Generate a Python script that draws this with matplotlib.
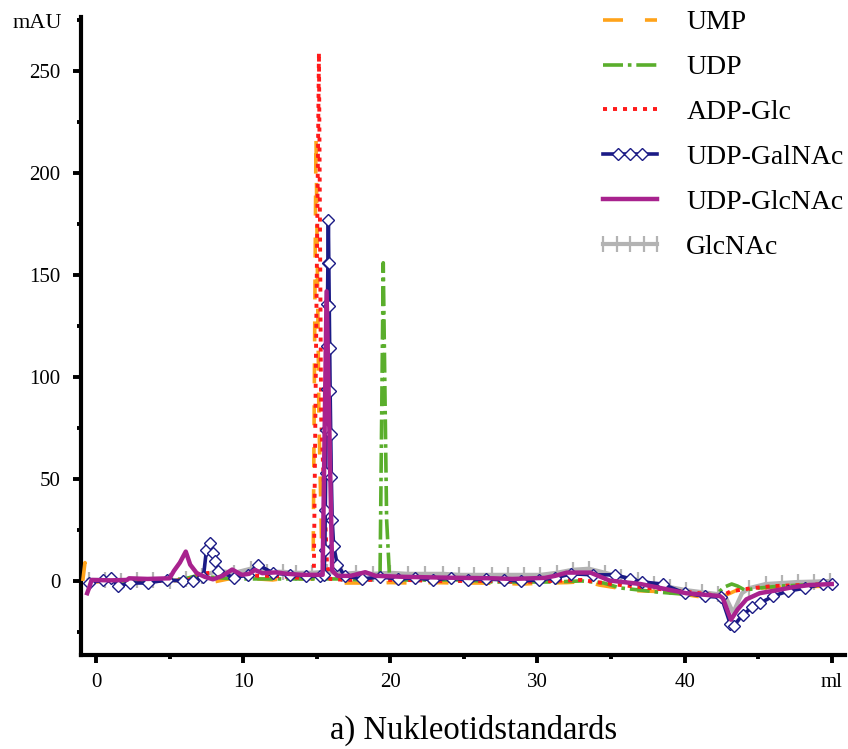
import matplotlib
matplotlib.use("Agg")
import matplotlib.pyplot as plt
from matplotlib.legend_handler import HandlerLine2D
from matplotlib.lines import Line2D
from matplotlib.ticker import MultipleLocator

plt.rcParams['font.family'] = ['Liberation Serif', 'DejaVu Serif']
plt.rcParams['lines.scale_dashes'] = False

# Elution volume (ml) and absorbance (mAU) of each standard
ump_x = [-0.9, -0.75, -0.6, 0.0, 1.0, 2.0, 3.0, 4.0, 5.0, 6.0, 7.0, 8.0, 9.0, 10.0, 11.0,
         12.0, 13.0, 14.0, 14.75, 14.95, 15.15, 15.35, 15.6, 17.0, 18.5, 20.0, 21.5, 23.0,
         24.5, 26.0, 27.5, 29.0, 30.5, 32.0, 33.3, 34.2, 35.5, 36.5, 38.3, 39.5, 41.0, 42.5,
         43.1, 43.7, 45.0, 46.5, 48.0, 50.0]
ump_y = [0, 9, -1, -0.5, 0, -0.5, -0.5, -0.5, 0, 0.5, 0.5, -0.5, 1.0, 0.5, 1.0,
         0.5, 1.5, 1.0, 1.0, 218, 80, 12, -1, -1, -1, -0.8, -1, -0.8,
         -1, -1, -1.2, -1.5, -1, -0.8, -0.3, -2, -3.5, -4.7, -5.2, -6, -7.7, -7.8,
         -6, -4, -3.5, -3, -2.8, -2.5]

udp_x = [-0.6, 0.0, 2.0, 4.0, 6.0, 6.8, 7.6, 8.5, 9.5, 10.5, 12.0, 13.5, 15.0, 16.5, 18.0,
         19.3, 19.52, 19.75, 19.95, 21.0, 23.0, 25.0, 27.0, 29.0, 31.0, 33.0, 34.5, 35.6,
         37.0, 38.1, 40.0, 42.0, 42.7, 43.2, 43.6, 44.1, 45.0, 46.5, 48.0, 50.0]
udp_y = [-1.5, 0, 0, 0.5, 1, 2.5, 2, 1.5, 1, 1, 1, 1, 1, 1, 0.5,
         1, 156, 30, 1.5, 0.5, 0.5, 0.5, -0.5, -0.5, -0.5, 0, -1, -3.4,
         -4.5, -5.4, -6.5, -7.5, -3, -1.5, -2.5, -4.5, -3.5, -2.5, -2, -1.5]

adpglc_x = [-0.6, 1.0, 3.0, 5.0, 6.3, 6.9, 7.8, 8.8, 10.0, 11.0, 12.0, 13.0, 14.0, 14.8,
            15.15, 15.3, 15.7, 15.9, 17.0, 19.0, 21.0, 23.0, 25.0, 27.0, 29.0, 31.0, 33.0,
            35.0, 37.0, 39.0, 41.0, 42.5, 43.1, 43.75, 44.5, 46.0, 48.0, 50.0]
adpglc_y = [0, 0, 0, 0, 0.5, 3.5, 4, 3.5, 3.5, 2.5, 2.5, 2, 1.5, 1,
            259, 80, 8, 1, 0.5, 0.5, 0.5, 0, 0, 0, -0.5, 0, 0.5,
            -1.5, -3, -4.5, -6, -7.5, -5.2, -4.4, -3.6, -2.5, -2, -1.5]

udpgalnac_x = [-0.5, 0.5, 1.05, 1.5, 2.3, 3.5, 4.8, 5.9, 6.6, 7.3, 7.5, 7.75, 7.95, 8.1, 8.3,
               9.4, 10.3, 11.0, 12.0, 13.2, 14.3, 15.2, 15.5, 15.55, 15.58, 15.61, 15.64,
               15.67, 15.7, 15.73, 15.76, 15.79, 15.82, 15.85, 15.88, 15.91, 15.95, 15.99,
               16.05, 16.15, 16.4, 16.9, 18.1, 19.3, 20.5, 21.7, 22.9, 24.1, 25.3, 26.5,
               27.7, 28.9, 30.1, 31.2, 32.3, 33.8, 35.3, 36.3, 37.1, 38.5, 40.0, 41.4, 42.5,
               43.1, 43.35, 43.95, 44.6, 45.1, 46.0, 47.0, 48.2, 49.4, 50.0]
udpgalnac_y = [-1, 0.5, 1.5, -2.5, -1, -1, 0.5, 0, 0, 2, 15, 18.5, 13.5, 10, 5,
               1.5, 3, 8, 4, 3, 2.5, 2.5, 3, 15, 35, 53, 74,
               94, 115, 136, 156, 177, 156, 135, 114, 93, 72, 51,
               30, 17, 8, 2.5, 1, 2, 1, 1.5, 0.5, 1.5, 0.5, 1,
               0.5, 0, 0.5, 1.5, 3.5, 3, 3, 1, -0.5, -1.5, -6, -7.5, -8,
               -21, -22, -16.5, -13, -11, -7.5, -5, -3.5, -1.5, -1.5]

udpglcnac_x = [-0.6, -0.45, -0.3, 1.0, 2.1, 2.25, 3.5, 5.0, 5.3, 5.7, 6.1, 6.4, 6.85, 7.4,
               7.95, 8.6, 9.25, 9.9, 10.4, 10.8, 11.3, 12.2, 13.0, 14.0, 15.0, 15.4, 15.67,
               16.05, 16.4, 17.3, 18.3, 19.0, 21.0, 24.0, 27.0, 28.3, 30.5, 31.2, 32.0, 33.6,
               34.9, 37.0, 38.8, 40.1, 42.4, 42.6, 43.15, 43.6, 44.2, 45.1, 46.3, 47.4, 48.5,
               50.0]
udpglcnac_y = [-6, -3, 0.5, 0.3, 0.5, 1.3, 1, 1.3, 5, 9, 14.4, 8, 3.8, 2,
               0.8, 2.5, 5.6, 3, 3.5, 5.4, 3.8, 4.2, 3.5, 3, 3, 3, 142,
               5, 2.5, 2.5, 4.3, 2.5, 2, 1.6, 1.3, 1, 1.5, 2.5, 4.1, 4.1,
               0.2, -1.5, -4.1, -6, -7.4, -8.5, -19, -14, -9, -6, -4.5, -3, -2,
               -1.5]

glcnac_x = [-0.5, 0.6, 1.7, 2.8, 3.9, 5.0, 6.1, 7.2, 8.3, 9.4, 10.5, 11.6, 12.7, 13.6, 14.65,
            15.7, 16.7, 17.7, 18.8, 20.0, 21.2, 22.35, 23.6, 24.7, 25.7, 26.9, 28.0, 29.1,
            30.2, 31.3, 32.4, 33.5, 34.6, 35.7, 36.8, 37.9, 39.0, 40.1, 41.2, 42.3, 42.8,
            43.3, 43.9, 44.4, 45.5, 46.6, 47.7, 48.8, 49.9]
glcnac_y = [0.5, 0.5, 0, 0.5, 0.5, 0, 1, 2.5, 5, 4, 6, 4.5, 4.5, 4, 4,
            4.5, 3.5, 4, 3.5, 4, 3.5, 3.5, 3.5, 3, 3, 3, 3, 3,
            3, 4, 5.5, 6, 4, 2, 0.5, -1.5, -3, -4.5, -5.5, -6.5, -8,
            -15.5, -6, -3.5, -1.5, -1, -0.5, -0.3, 0]

x_ticks = [0, 10, 20, 30, 40, 50]
x_ticklabels = ['0', '10', '20', '30', '40', 'ml']
y_ticks = [0, 50, 100, 150, 200, 250]


class FullLineHandler(HandlerLine2D):
    """Legend handle: line over the whole handle width, markers set in from the ends."""

    def create_artists(self, legend, orig_handle, xdescent, ydescent, width, height,
                       fontsize, trans):
        artists = super().create_artists(legend, orig_handle, xdescent, ydescent,
                                         width, height, fontsize, trans)
        marks = artists[0]
        y0 = marks.get_ydata()[0]
        line = Line2D([-xdescent, -xdescent + width], [y0, y0])
        self.update_prop(line, orig_handle, legend)
        line.set_marker('None')
        line.set_transform(trans)
        marks.set_linestyle('None')
        return [line, marks]


W, H = 848, 749
fig = plt.figure(figsize=(W / 100, H / 100), dpi=100)
ax = fig.add_axes([81 / W, 1 - 655 / H, (845 - 81) / W, (655 - 17) / H])

# tick markers on GlcNAc only at the regular sampling points, not inside the dip
glcnac_marks = [i for i, v in enumerate(glcnac_x) if not (42.5 < v < 44.2)]

l_gray, = ax.plot(glcnac_x, glcnac_y, color='#b3b3b3', lw=3.0, marker='|', ms=11,
                  mew=1.6, markevery=glcnac_marks, zorder=2, label='GlcNAc')
l_ump, = ax.plot(ump_x, ump_y, color='#ffa31a', lw=2.6, ls=(0, (14.4, 15.8)),
                 zorder=3, label='UMP')
l_udp, = ax.plot(udp_x, udp_y, color='#5aae2c', lw=2.6, ls=(0, (14.4, 3.5, 2.6, 3.5)),
                 zorder=4, label='UDP')
l_adp, = ax.plot(adpglc_x, adpglc_y, color='#ff1a1a', lw=2.8, ls=(0, (2.9, 4.3)),
                 zorder=5, label='ADP-Glc')
l_galnac, = ax.plot(udpgalnac_x, udpgalnac_y, color='#1b1b86', lw=2.6, marker='D', ms=6,
                    mfc='white', mec='#1b1b86', mew=1.0, zorder=6, label='UDP-GalNAc')
l_glcnac, = ax.plot(udpglcnac_x, udpglcnac_y, color='#a8228e', lw=3.2, zorder=7,
                    label='UDP-GlcNAc')

ax.set_xlim(-1.02, 50.9)
ax.set_ylim(-36.3, 276.5)

for side in ('top', 'right'):
    ax.spines[side].set_visible(False)
for side in ('left', 'bottom'):
    ax.spines[side].set_linewidth(3.0)

ax.set_xticks(x_ticks)
ax.set_xticklabels(x_ticklabels)
ax.set_yticks(y_ticks)
ax.xaxis.set_minor_locator(MultipleLocator(5))
ax.yaxis.set_minor_locator(MultipleLocator(25))
ax.tick_params(which='major', direction='out', length=6, width=2.8, labelsize=15)
ax.tick_params(axis='y', which='major', pad=9)
ax.tick_params(axis='x', which='major', pad=7)
ax.tick_params(which='minor', direction='out', length=3, width=2.8)

fig.text(62 / W, 1 - 23 / H, 'mAU', ha='right', va='center', fontsize=16)
fig.text(474 / W, 1 - 739 / H, 'a) Nukleotidstandards', ha='center', va='baseline',
         fontsize=23.5)

handles = [l_ump, l_udp, l_adp, l_galnac, l_glcnac, l_gray]
fig.legend(handles, [h.get_label() for h in handles], loc='upper left',
           bbox_to_anchor=(603 / W, 1 - 10 / H), frameon=False, fontsize=20,
           handlelength=1.95, handletextpad=1.05, labelspacing=0.7, borderpad=0,
           borderaxespad=0,
           handler_map={l_galnac: FullLineHandler(numpoints=3, marker_pad=0.54),
                        l_gray: HandlerLine2D(numpoints=5, marker_pad=0)})

fig.savefig('out.png', dpi=100)
